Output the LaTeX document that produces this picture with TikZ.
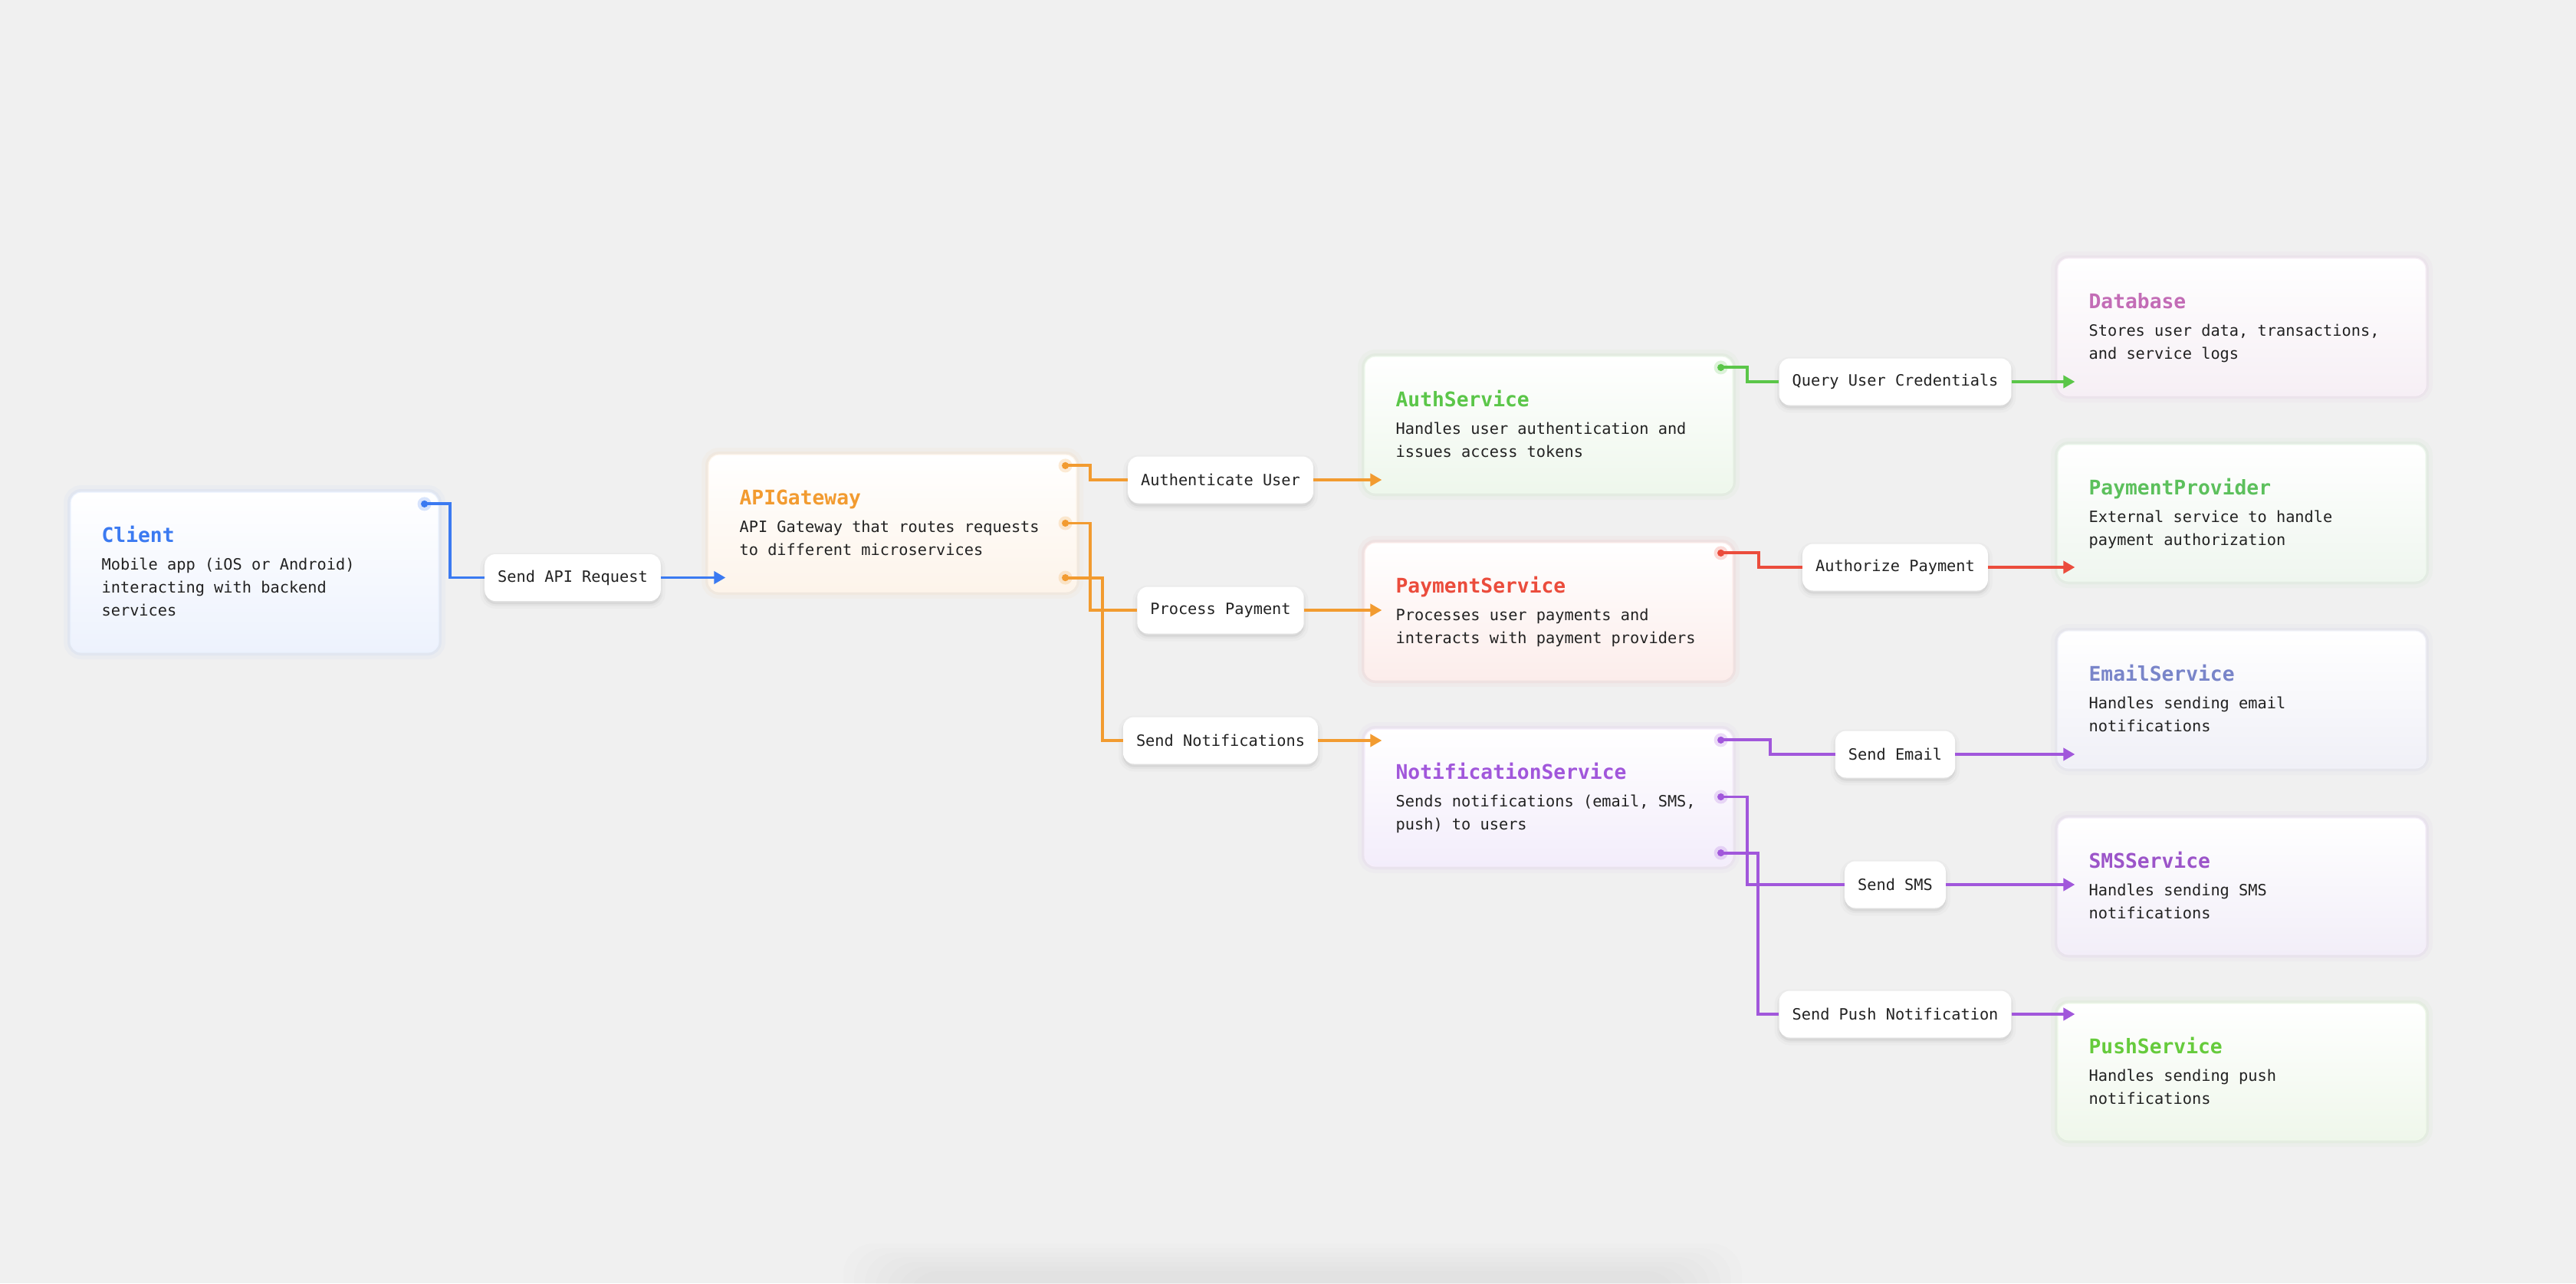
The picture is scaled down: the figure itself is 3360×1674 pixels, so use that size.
\documentclass[tikz,border=0pt]{standalone}
\usepackage{fontspec}
\setmonofont{DejaVu Sans Mono}
\usetikzlibrary{arrows.meta,calc}
\definecolor{bg}{HTML}{F0F0F0}
\definecolor{txt}{HTML}{222222}
\definecolor{cblue}{HTML}{3B7AF1}
\definecolor{corange}{HTML}{F29B30}
\definecolor{cgreen}{HTML}{5BC649}
\definecolor{cred}{HTML}{EB4C3C}
\definecolor{cpurple}{HTML}{A157DB}
\definecolor{cpink}{HTML}{C36CB6}
\definecolor{cppgreen}{HTML}{5CC05C}
\definecolor{cslate}{HTML}{7985C9}
\definecolor{csms}{HTML}{9C55C9}
\definecolor{cpush}{HTML}{66CB3C}
\definecolor{tblue}{HTML}{EDF2FD}
\definecolor{torange}{HTML}{FDF4EA}
\definecolor{tgreen}{HTML}{EEF7EC}
\definecolor{tred}{HTML}{FCEDEB}
\definecolor{tpurple}{HTML}{F3EDFB}
\definecolor{tpink}{HTML}{F6EFF5}
\definecolor{tppgreen}{HTML}{EFF6EF}
\definecolor{tslate}{HTML}{F0F0F7}
\definecolor{tsms}{HTML}{F2EEF8}
\definecolor{tpush}{HTML}{EFF7EB}
\newcommand{\dscfont}{\ttfamily\fontsize{20.3}{24}\selectfont}
\newcommand{\ttlfont}{\ttfamily\bfseries\fontsize{26.3}{30}\selectfont}
\newcommand{\mkbox}[7]{%
  \node[svcbox, draw=#5!10, top color=white, bottom color=#6, minimum height=#4pt,
        preaction={draw=#5, draw opacity=0.03, line width=18pt},
        preaction={draw=#5, draw opacity=0.05, line width=8pt}] (#1) at (#2+240,#3+#4/2) {};
  \node[ttl, text=#5] (#1-t) at ($(#1.north west)+(41,66)$) {#7};}
\newcommand{\mkdesc}[4]{\node[dsc] (#1-d#2) at ($(#1.north west)+(41,#3)$) {#4};}
\newcommand{\mkport}[2]{%
  \fill[#2, opacity=0.2] (#1) circle (9pt);
  \fill[#2] (#1) circle (4.6pt);}
\begin{document}
\begin{tikzpicture}[x=1pt,y=-1pt,
  svcbox/.style={rounded corners=14pt, minimum width=480pt, inner sep=0pt, line width=1.2pt},
  ttl/.style={anchor=base west, inner sep=0pt, font=\ttlfont},
  dsc/.style={anchor=base west, inner sep=0pt, font=\dscfont, text=txt},
  lbl/.style={fill=white, rounded corners=14pt, minimum height=61pt, inner xsep=17pt, inner ysep=0pt,
    font=\dscfont, text=txt,
    preaction={draw=black, draw opacity=0.02, line width=12pt, transform canvas={yshift=-4pt}},
    preaction={draw=black, draw opacity=0.03, line width=5pt, transform canvas={yshift=-4pt}},
    preaction={fill=black, fill opacity=0.05, transform canvas={yshift=-4pt}}},
  conn/.style={line width=3.9pt, draw=#1},
  arr/.style={-{Triangle[length=15pt,width=16pt]}}]
\fill[bg] (0,0) rectangle (3360,1674);
\useasboundingbox (0,0) rectangle (3360,1674);
% faint shadow at the bottom edge
\foreach \i in {0,...,6}
  \fill[black, opacity=0.007, rounded corners=40pt] (1100+\i*14,1622+\i*6) rectangle (2272-\i*14,1740);

% service boxes
\mkbox{client}{92}{642}{209}{cblue}{tblue}{Client}
\mkdesc{client}{1}{102}{Mobile app (iOS or Android)}
\mkdesc{client}{2}{132}{interacting with backend}
\mkdesc{client}{3}{162}{services}

\mkbox{gw}{924}{593}{179}{corange}{torange}{APIGateway}
\mkdesc{gw}{1}{102}{API Gateway that routes requests}
\mkdesc{gw}{2}{132}{to different microservices}

\mkbox{auth}{1780}{465}{178}{cgreen}{tgreen}{AuthService}
\mkdesc{auth}{1}{102}{Handles user authentication and}
\mkdesc{auth}{2}{132}{issues access tokens}

\mkbox{pay}{1780}{708}{179}{cred}{tred}{PaymentService}
\mkdesc{pay}{1}{102}{Processes user payments and}
\mkdesc{pay}{2}{132}{interacts with payment providers}

\mkbox{noti}{1780}{951}{179}{cpurple}{tpurple}{NotificationService}
\mkdesc{noti}{1}{102}{Sends notifications (email, SMS,}
\mkdesc{noti}{2}{132}{push) to users}

\mkbox{db}{2684}{337}{179}{cpink}{tpink}{Database}
\mkdesc{db}{1}{102}{Stores user data, transactions,}
\mkdesc{db}{2}{132}{and service logs}

\mkbox{pp}{2684}{580}{178}{cppgreen}{tppgreen}{PaymentProvider}
\mkdesc{pp}{1}{102}{External service to handle}
\mkdesc{pp}{2}{132}{payment authorization}

\mkbox{email}{2684}{823}{179}{cslate}{tslate}{EmailService}
\mkdesc{email}{1}{102}{Handles sending email}
\mkdesc{email}{2}{132}{notifications}

\mkbox{sms}{2684}{1067}{178}{csms}{tsms}{SMSService}
\mkdesc{sms}{1}{102}{Handles sending SMS}
\mkdesc{sms}{2}{132}{notifications}

\mkbox{push}{2684}{1309}{178}{cpush}{tpush}{PushService}
\mkdesc{push}{1}{102}{Handles sending push}
\mkdesc{push}{2}{132}{notifications}

% ports
\coordinate (cport) at ($(client.north east)+(-19,16)$);
\coordinate (gp1) at ($(gw.north east)+(-15,15)$);
\coordinate (gp2) at ($(gw.east)+(-15,0)$);
\coordinate (gp3) at ($(gw.south east)+(-15,-19)$);
\coordinate (ap1) at ($(auth.north east)+(-16,15)$);
\coordinate (pp1) at ($(pay.north east)+(-16,14)$);
\coordinate (np1) at ($(noti.north east)+(-16,15)$);
\coordinate (np2) at ($(noti.east)+(-16,-1)$);
\coordinate (np3) at ($(noti.south east)+(-16,-18)$);

% label nodes
\node[lbl] (sar) at (747,753.5) {Send API Request};
\node[lbl] (au) at (1592,626) {Authenticate User};
\node[lbl] (ppay) at (1592,796) {Process Payment};
\node[lbl] (sn) at (1592,966) {Send Notifications};
\node[lbl] (quc) at (2472,498) {Query User Credentials};
\node[lbl] (ap) at (2472,740) {Authorize Payment};
\node[lbl] (se) at (2472,984) {Send Email};
\node[lbl] (ss) at (2472,1154) {Send SMS};
\node[lbl] (spn) at (2472,1323) {Send Push Notification};

% connectors: source port to label
\draw[conn=cblue] (cport) -- ++(33,0) |- (sar.west);
\draw[conn=corange] (gp1) -- ++(32,0) |- (au.west);
\draw[conn=corange] (gp2) -- ++(32,0) |- (ppay.west);
\draw[conn=corange] (gp3) -- ++(48,0) |- (sn.west);
\draw[conn=cgreen] (ap1) -- ++(34,0) |- (quc.west);
\draw[conn=cred] (pp1) -- ++(49,0) |- (ap.west);
\draw[conn=cpurple] (np1) -- ++(64,0) |- (se.west);
\draw[conn=cpurple] (np2) -- ++(34,0) |- (ss.west);
\draw[conn=cpurple] (np3) -- ++(48,0) |- (spn.west);

% connectors: label to target
\draw[conn=cblue, arr] (sar.east) -- ($(sar.east -| gw.west)+(23,0)$);
\draw[conn=corange, arr] (au.east) -- ($(au.east -| auth.west)+(23,0)$);
\draw[conn=corange, arr] (ppay.east) -- ($(ppay.east -| pay.west)+(23,0)$);
\draw[conn=corange, arr] (sn.east) -- ($(sn.east -| noti.west)+(23,0)$);
\draw[conn=cgreen, arr] (quc.east) -- ($(quc.east -| db.west)+(23,0)$);
\draw[conn=cred, arr] (ap.east) -- ($(ap.east -| pp.west)+(23,0)$);
\draw[conn=cpurple, arr] (se.east) -- ($(se.east -| email.west)+(23,0)$);
\draw[conn=cpurple, arr] (ss.east) -- ($(ss.east -| sms.west)+(23,0)$);
\draw[conn=cpurple, arr] (spn.east) -- ($(spn.east -| push.west)+(23,0)$);

% port dots
\mkport{cport}{cblue}
\mkport{gp1}{corange}
\mkport{gp2}{corange}
\mkport{gp3}{corange}
\mkport{ap1}{cgreen}
\mkport{pp1}{cred}
\mkport{np1}{cpurple}
\mkport{np2}{cpurple}
\mkport{np3}{cpurple}
\end{tikzpicture}
\end{document}
